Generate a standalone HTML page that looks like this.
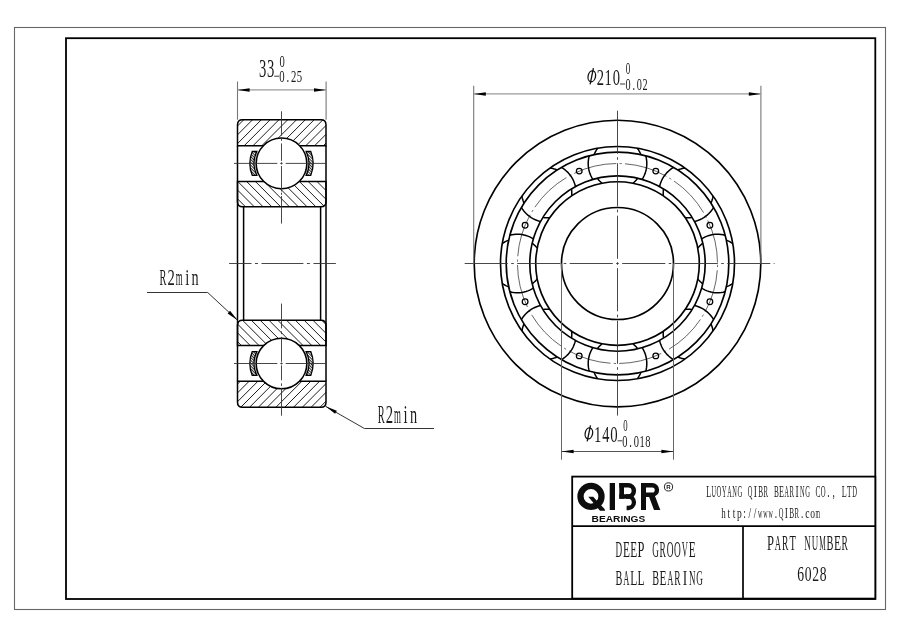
<!DOCTYPE html><html><head><meta charset="utf-8"><style>html,body{margin:0;padding:0;background:#fff;width:900px;height:636px;overflow:hidden}svg{display:block;filter:grayscale(1)}</style></head><body><svg width="900" height="636" viewBox="0 0 900 636"><defs><clipPath id="ro1"><path d="M237.5,145.8 L237.5,124.8 Q237.5,119.8 242.5,119.8 L321.0,119.8 Q326.0,119.8 326.0,124.8 L326.0,145.8 Z"/></clipPath><clipPath id="ri1"><path d="M237.5,181.6 L326.0,181.6 L326.0,201.8 Q326.0,206.8 321.0,206.8 L242.5,206.8 Q237.5,206.8 237.5,201.8 Z"/></clipPath><clipPath id="ri2"><path d="M237.5,345.4 L237.5,325.2 Q237.5,320.2 242.5,320.2 L321.0,320.2 Q326.0,320.2 326.0,325.2 L326.0,345.4 Z"/></clipPath><clipPath id="ro2"><path d="M237.5,381.2 L326.0,381.2 L326.0,402.2 Q326.0,407.2 321.0,407.2 L242.5,407.2 Q237.5,407.2 237.5,402.2 Z"/></clipPath><pattern id="cagehatch" width="2.0" height="2.0" patternUnits="userSpaceOnUse" patternTransform="rotate(-45)"><rect width="2.0" height="2.0" fill="#fff"/><rect width="0.95" height="2.0" fill="#222"/></pattern></defs><rect width="900" height="636" fill="#fff"/><rect x="14.5" y="27.5" width="871" height="582" fill="none" stroke="#666" stroke-width="1.1"/>
<rect x="66" y="38.2" width="809.3" height="560.8" fill="none" stroke="#000" stroke-width="1.8"/>
<path d="M215.70,147.8 L245.70,117.8 M224.50,147.8 L254.50,117.8 M233.30,147.8 L263.30,117.8 M242.10,147.8 L272.10,117.8 M250.90,147.8 L280.90,117.8 M259.70,147.8 L289.70,117.8 M268.50,147.8 L298.50,117.8 M277.30,147.8 L307.30,117.8 M286.10,147.8 L316.10,117.8 M294.90,147.8 L324.90,117.8 M303.70,147.8 L333.70,117.8 M312.50,147.8 L342.50,117.8 M321.30,147.8 L351.30,117.8" stroke="#111" stroke-width="0.95" fill="none" clip-path="url(#ro1)"/>
<path d="M237.5,145.8 L237.5,124.8 Q237.5,119.8 242.5,119.8 L321.0,119.8 Q326.0,119.8 326.0,124.8 L326.0,145.8 Z" fill="none" stroke="#000" stroke-width="1.5"/>
<path d="M209.50,179.6 L238.70,208.8 M218.30,179.6 L247.50,208.8 M227.10,179.6 L256.30,208.8 M235.90,179.6 L265.10,208.8 M244.70,179.6 L273.90,208.8 M253.50,179.6 L282.70,208.8 M262.30,179.6 L291.50,208.8 M271.10,179.6 L300.30,208.8 M279.90,179.6 L309.10,208.8 M288.70,179.6 L317.90,208.8 M297.50,179.6 L326.70,208.8 M306.30,179.6 L335.50,208.8 M315.10,179.6 L344.30,208.8 M323.90,179.6 L353.10,208.8" stroke="#111" stroke-width="0.95" fill="none" clip-path="url(#ri1)"/>
<path d="M237.5,181.6 L326.0,181.6 L326.0,201.8 Q326.0,206.8 321.0,206.8 L242.5,206.8 Q237.5,206.8 237.5,201.8 Z" fill="none" stroke="#000" stroke-width="1.5"/>
<path d="M214.10,318.2 L243.30,347.4 M222.90,318.2 L252.10,347.4 M231.70,318.2 L260.90,347.4 M240.50,318.2 L269.70,347.4 M249.30,318.2 L278.50,347.4 M258.10,318.2 L287.30,347.4 M266.90,318.2 L296.10,347.4 M275.70,318.2 L304.90,347.4 M284.50,318.2 L313.70,347.4 M293.30,318.2 L322.50,347.4 M302.10,318.2 L331.30,347.4 M310.90,318.2 L340.10,347.4 M319.70,318.2 L348.90,347.4" stroke="#111" stroke-width="0.95" fill="none" clip-path="url(#ri2)"/>
<path d="M237.5,345.4 L237.5,325.2 Q237.5,320.2 242.5,320.2 L321.0,320.2 Q326.0,320.2 326.0,325.2 L326.0,345.4 Z" fill="none" stroke="#000" stroke-width="1.5"/>
<path d="M212.40,409.2 L242.40,379.2 M221.20,409.2 L251.20,379.2 M230.00,409.2 L260.00,379.2 M238.80,409.2 L268.80,379.2 M247.60,409.2 L277.60,379.2 M256.40,409.2 L286.40,379.2 M265.20,409.2 L295.20,379.2 M274.00,409.2 L304.00,379.2 M282.80,409.2 L312.80,379.2 M291.60,409.2 L321.60,379.2 M300.40,409.2 L330.40,379.2 M309.20,409.2 L339.20,379.2 M318.00,409.2 L348.00,379.2" stroke="#111" stroke-width="0.95" fill="none" clip-path="url(#ro2)"/>
<path d="M237.5,381.2 L326.0,381.2 L326.0,402.2 Q326.0,407.2 321.0,407.2 L242.5,407.2 Q237.5,407.2 237.5,402.2 Z" fill="none" stroke="#000" stroke-width="1.5"/>
<line x1="237.50" y1="145.80" x2="237.50" y2="381.20" stroke="#000" stroke-width="1.5" />
<line x1="326.00" y1="145.80" x2="326.00" y2="381.20" stroke="#000" stroke-width="1.5" />
<line x1="243.60" y1="206.80" x2="243.60" y2="320.20" stroke="#000" stroke-width="1.5" />
<line x1="320.60" y1="206.80" x2="320.60" y2="320.20" stroke="#000" stroke-width="1.5" />
<path d="M252.23,151.50 A31.6,31.6 0 0 0 252.23,175.30 L256.82,175.30 A27.4,27.4 0 0 1 256.82,151.50 Z" fill="url(#cagehatch)" stroke="#000" stroke-width="1.3"/>
<path d="M257.61,152.40 A26.3,26.3 0 0 0 257.61,174.40" fill="none" stroke="#777" stroke-width="0.6"/>
<path d="M310.77,151.50 A31.6,31.6 0 0 1 310.77,175.30 L306.18,175.30 A27.4,27.4 0 0 0 306.18,151.50 Z" fill="url(#cagehatch)" stroke="#000" stroke-width="1.3"/>
<path d="M305.39,152.40 A26.3,26.3 0 0 1 305.39,174.40" fill="none" stroke="#777" stroke-width="0.6"/>
<circle cx="281.5" cy="163.4" r="25.3" fill="#fff" stroke="#000" stroke-width="1.5"/>
<path d="M252.23,351.60 A31.6,31.6 0 0 0 252.23,375.40 L256.82,375.40 A27.4,27.4 0 0 1 256.82,351.60 Z" fill="url(#cagehatch)" stroke="#000" stroke-width="1.3"/>
<path d="M257.61,352.50 A26.3,26.3 0 0 0 257.61,374.50" fill="none" stroke="#777" stroke-width="0.6"/>
<path d="M310.77,351.60 A31.6,31.6 0 0 1 310.77,375.40 L306.18,375.40 A27.4,27.4 0 0 0 306.18,351.60 Z" fill="url(#cagehatch)" stroke="#000" stroke-width="1.3"/>
<path d="M305.39,352.50 A26.3,26.3 0 0 1 305.39,374.50" fill="none" stroke="#777" stroke-width="0.6"/>
<circle cx="281.5" cy="363.5" r="25.3" fill="#fff" stroke="#000" stroke-width="1.5"/>
<path d="M281.5,111.3 L281.5,135.6 M281.5,138.3 L281.5,140.8 M281.5,143.4 L281.5,160.9 M281.5,162.3 L281.5,164.5 M281.5,166.0 L281.5,191.4 M281.5,192.7 L281.5,194.8 M281.5,196.0 L281.5,223.6" stroke="#333" stroke-width="0.9" fill="none"/>
<path d="M281.5,303.6 L281.5,328.3 M281.5,331.4 L281.5,334.0 M281.5,336.9 L281.5,361.8 M281.5,362.5 L281.5,364.5 M281.5,365.4 L281.5,380.3 M281.5,383.4 L281.5,385.9 M281.5,387.8 L281.5,415.7" stroke="#333" stroke-width="0.9" fill="none"/>
<line x1="234.00" y1="163.40" x2="326.00" y2="163.40" stroke="#333" stroke-width="0.9" stroke-dasharray="43.80 3.0 2.4 3.0" stroke-dashoffset="0.50"/>
<line x1="234.00" y1="363.50" x2="326.00" y2="363.50" stroke="#333" stroke-width="0.9" stroke-dasharray="43.80 3.0 2.4 3.0" stroke-dashoffset="0.50"/>
<line x1="229.10" y1="263.50" x2="335.90" y2="263.50" stroke="#333" stroke-width="0.9" stroke-dasharray="41.90 3.5 3.0 3.5" stroke-dashoffset="19.50"/>
<line x1="237.50" y1="81.50" x2="237.50" y2="119.80" stroke="#777" stroke-width="1.1" />
<line x1="326.10" y1="81.50" x2="326.10" y2="119.80" stroke="#777" stroke-width="1.1" />
<line x1="237.50" y1="89.90" x2="326.10" y2="89.90" stroke="#9a9a9a" stroke-width="1.4" />
<path d="M237.60,89.90 L249.60,88.15 L249.60,91.65 Z" fill="#000"/>
<path d="M326.00,89.90 L314.00,91.65 L314.00,88.15 Z" fill="#000"/>
<line x1="147.00" y1="292.50" x2="207.70" y2="292.50" stroke="#333" stroke-width="1.0" />
<line x1="207.70" y1="292.50" x2="237.60" y2="320.30" stroke="#333" stroke-width="1.0" />
<path d="M237.60,320.30 L227.63,313.39 L230.02,310.83 Z" fill="#000"/>
<line x1="434.00" y1="428.50" x2="364.40" y2="428.50" stroke="#333" stroke-width="1.0" />
<line x1="364.40" y1="428.50" x2="325.50" y2="406.30" stroke="#333" stroke-width="1.0" />
<path d="M325.50,406.30 L336.82,410.64 L335.11,413.69 Z" fill="#000"/>
<circle cx="617.5" cy="263.5" r="143.3" fill="none" stroke="#000" stroke-width="1.65"/>
<circle cx="617.5" cy="263.5" r="117.0" fill="none" stroke="#000" stroke-width="1.65"/>
<circle cx="617.5" cy="263.5" r="111.3" fill="none" stroke="#000" stroke-width="1.65"/>
<circle cx="617.5" cy="263.5" r="87.7" fill="none" stroke="#000" stroke-width="1.65"/>
<circle cx="617.5" cy="263.5" r="81.8" fill="none" stroke="#000" stroke-width="1.65"/>
<circle cx="617.5" cy="263.5" r="56.0" fill="none" stroke="#000" stroke-width="1.65"/>
<circle cx="617.5" cy="263.5" r="100" fill="none" stroke="#333" stroke-width="0.75" stroke-dasharray="43.5 3.3 2.3 3.26" stroke-dashoffset="45.5"/>
<path d="M725.15,235.22 L723.16,234.75 L721.15,234.43 L719.12,234.24 L717.08,234.20 L715.04,234.30 L713.02,234.54 L711.02,234.93 L709.05,235.45 L707.12,236.10 L705.24,236.89 L703.42,237.81 L701.66,238.85 M725.15,291.78 L723.16,292.25 L721.15,292.57 L719.12,292.76 L717.08,292.80 L715.04,292.70 L713.02,292.46 L711.02,292.07 L709.05,291.55 L707.12,290.90 L705.24,290.11 L703.42,289.19 L701.66,288.15 M732.82,243.74 L732.32,243.37 L731.82,243.00 L731.30,242.65 L730.78,242.32 L730.24,241.99 L729.70,241.68 L729.16,241.38 L728.60,241.10 L728.04,240.83 L727.47,240.57 L726.89,240.33 L726.31,240.11 M732.82,283.26 L732.32,283.63 L731.82,284.00 L731.30,284.35 L730.78,284.68 L730.24,285.01 L729.70,285.32 L729.16,285.62 L728.60,285.90 L728.04,286.17 L727.47,286.43 L726.89,286.67 L726.31,286.89 M702.83,243.26 L702.37,243.60 L701.91,243.96 L701.46,244.33 L701.02,244.70 L700.59,245.09 L700.16,245.49 L699.75,245.89 L699.35,246.31 L698.95,246.74 L698.57,247.17 L698.19,247.62 L697.83,248.07 M702.83,283.74 L702.37,283.40 L701.91,283.04 L701.46,282.67 L701.02,282.30 L700.59,281.91 L700.16,281.51 L699.75,281.11 L699.35,280.69 L698.95,280.26 L698.57,279.83 L698.19,279.38 L697.83,278.93 M673.62,167.38 L671.89,168.46 L670.23,169.65 L668.67,170.96 L667.20,172.37 L665.83,173.88 L664.57,175.48 L663.42,177.17 L662.40,178.93 L661.49,180.76 L660.72,182.64 L660.08,184.58 L659.58,186.56 M713.62,207.38 L712.54,209.11 L711.35,210.77 L710.04,212.33 L708.63,213.80 L707.12,215.17 L705.52,216.43 L703.83,217.58 L702.07,218.60 L700.24,219.51 L698.36,220.28 L696.42,220.92 L694.44,221.42 M685.07,167.99 L684.46,168.07 L683.84,168.17 L683.23,168.29 L682.62,168.42 L682.01,168.57 L681.41,168.73 L680.81,168.91 L680.22,169.10 L679.63,169.31 L679.05,169.53 L678.47,169.76 L677.90,170.01 M713.01,195.93 L712.93,196.54 L712.83,197.16 L712.71,197.77 L712.58,198.38 L712.43,198.99 L712.27,199.59 L712.09,200.19 L711.90,200.78 L711.69,201.37 L711.47,201.95 L711.24,202.53 L710.99,203.10 M663.52,188.85 L663.44,189.42 L663.37,190.00 L663.31,190.57 L663.26,191.15 L663.23,191.73 L663.22,192.31 L663.21,192.89 L663.22,193.47 L663.24,194.05 L663.28,194.63 L663.33,195.21 L663.39,195.79 M692.15,217.48 L691.58,217.56 L691.00,217.63 L690.43,217.69 L689.85,217.74 L689.27,217.77 L688.69,217.78 L688.11,217.79 L687.53,217.78 L686.95,217.76 L686.37,217.72 L685.79,217.67 L685.21,217.61 M589.22,155.85 L588.75,157.84 L588.43,159.85 L588.24,161.88 L588.20,163.92 L588.30,165.96 L588.54,167.98 L588.93,169.98 L589.45,171.95 L590.10,173.88 L590.89,175.76 L591.81,177.58 L592.85,179.34 M645.78,155.85 L646.25,157.84 L646.57,159.85 L646.76,161.88 L646.80,163.92 L646.70,165.96 L646.46,167.98 L646.07,169.98 L645.55,171.95 L644.90,173.88 L644.11,175.76 L643.19,177.58 L642.15,179.34 M597.74,148.18 L597.37,148.68 L597.00,149.18 L596.65,149.70 L596.32,150.22 L595.99,150.76 L595.68,151.30 L595.38,151.84 L595.10,152.40 L594.83,152.96 L594.57,153.53 L594.33,154.11 L594.11,154.69 M637.26,148.18 L637.63,148.68 L638.00,149.18 L638.35,149.70 L638.68,150.22 L639.01,150.76 L639.32,151.30 L639.62,151.84 L639.90,152.40 L640.17,152.96 L640.43,153.53 L640.67,154.11 L640.89,154.69 M597.26,178.17 L597.60,178.63 L597.96,179.09 L598.33,179.54 L598.70,179.98 L599.09,180.41 L599.49,180.84 L599.89,181.25 L600.31,181.65 L600.74,182.05 L601.17,182.43 L601.62,182.81 L602.07,183.17 M637.74,178.17 L637.40,178.63 L637.04,179.09 L636.67,179.54 L636.30,179.98 L635.91,180.41 L635.51,180.84 L635.11,181.25 L634.69,181.65 L634.26,182.05 L633.83,182.43 L633.38,182.81 L632.93,183.17 M521.38,207.38 L522.46,209.11 L523.65,210.77 L524.96,212.33 L526.37,213.80 L527.88,215.17 L529.48,216.43 L531.17,217.58 L532.93,218.60 L534.76,219.51 L536.64,220.28 L538.58,220.92 L540.56,221.42 M561.38,167.38 L563.11,168.46 L564.77,169.65 L566.33,170.96 L567.80,172.37 L569.17,173.88 L570.43,175.48 L571.58,177.17 L572.60,178.93 L573.51,180.76 L574.28,182.64 L574.92,184.58 L575.42,186.56 M521.99,195.93 L522.07,196.54 L522.17,197.16 L522.29,197.77 L522.42,198.38 L522.57,198.99 L522.73,199.59 L522.91,200.19 L523.10,200.78 L523.31,201.37 L523.53,201.95 L523.76,202.53 L524.01,203.10 M549.93,167.99 L550.54,168.07 L551.16,168.17 L551.77,168.29 L552.38,168.42 L552.99,168.57 L553.59,168.73 L554.19,168.91 L554.78,169.10 L555.37,169.31 L555.95,169.53 L556.53,169.76 L557.10,170.01 M542.85,217.48 L543.42,217.56 L544.00,217.63 L544.57,217.69 L545.15,217.74 L545.73,217.77 L546.31,217.78 L546.89,217.79 L547.47,217.78 L548.05,217.76 L548.63,217.72 L549.21,217.67 L549.79,217.61 M571.48,188.85 L571.56,189.42 L571.63,190.00 L571.69,190.57 L571.74,191.15 L571.77,191.73 L571.78,192.31 L571.79,192.89 L571.78,193.47 L571.76,194.05 L571.72,194.63 L571.67,195.21 L571.61,195.79 M509.85,291.78 L511.84,292.25 L513.85,292.57 L515.88,292.76 L517.92,292.80 L519.96,292.70 L521.98,292.46 L523.98,292.07 L525.95,291.55 L527.88,290.90 L529.76,290.11 L531.58,289.19 L533.34,288.15 M509.85,235.22 L511.84,234.75 L513.85,234.43 L515.88,234.24 L517.92,234.20 L519.96,234.30 L521.98,234.54 L523.98,234.93 L525.95,235.45 L527.88,236.10 L529.76,236.89 L531.58,237.81 L533.34,238.85 M502.18,283.26 L502.68,283.63 L503.18,284.00 L503.70,284.35 L504.22,284.68 L504.76,285.01 L505.30,285.32 L505.84,285.62 L506.40,285.90 L506.96,286.17 L507.53,286.43 L508.11,286.67 L508.69,286.89 M502.18,243.74 L502.68,243.37 L503.18,243.00 L503.70,242.65 L504.22,242.32 L504.76,241.99 L505.30,241.68 L505.84,241.38 L506.40,241.10 L506.96,240.83 L507.53,240.57 L508.11,240.33 L508.69,240.11 M532.17,283.74 L532.63,283.40 L533.09,283.04 L533.54,282.67 L533.98,282.30 L534.41,281.91 L534.84,281.51 L535.25,281.11 L535.65,280.69 L536.05,280.26 L536.43,279.83 L536.81,279.38 L537.17,278.93 M532.17,243.26 L532.63,243.60 L533.09,243.96 L533.54,244.33 L533.98,244.70 L534.41,245.09 L534.84,245.49 L535.25,245.89 L535.65,246.31 L536.05,246.74 L536.43,247.17 L536.81,247.62 L537.17,248.07 M561.38,359.62 L563.11,358.54 L564.77,357.35 L566.33,356.04 L567.80,354.63 L569.17,353.12 L570.43,351.52 L571.58,349.83 L572.60,348.07 L573.51,346.24 L574.28,344.36 L574.92,342.42 L575.42,340.44 M521.38,319.62 L522.46,317.89 L523.65,316.23 L524.96,314.67 L526.37,313.20 L527.88,311.83 L529.48,310.57 L531.17,309.42 L532.93,308.40 L534.76,307.49 L536.64,306.72 L538.58,306.08 L540.56,305.58 M549.93,359.01 L550.54,358.93 L551.16,358.83 L551.77,358.71 L552.38,358.58 L552.99,358.43 L553.59,358.27 L554.19,358.09 L554.78,357.90 L555.37,357.69 L555.95,357.47 L556.53,357.24 L557.10,356.99 M521.99,331.07 L522.07,330.46 L522.17,329.84 L522.29,329.23 L522.42,328.62 L522.57,328.01 L522.73,327.41 L522.91,326.81 L523.10,326.22 L523.31,325.63 L523.53,325.05 L523.76,324.47 L524.01,323.90 M571.48,338.15 L571.56,337.58 L571.63,337.00 L571.69,336.43 L571.74,335.85 L571.77,335.27 L571.78,334.69 L571.79,334.11 L571.78,333.53 L571.76,332.95 L571.72,332.37 L571.67,331.79 L571.61,331.21 M542.85,309.52 L543.42,309.44 L544.00,309.37 L544.57,309.31 L545.15,309.26 L545.73,309.23 L546.31,309.22 L546.89,309.21 L547.47,309.22 L548.05,309.24 L548.63,309.28 L549.21,309.33 L549.79,309.39 M645.78,371.15 L646.25,369.16 L646.57,367.15 L646.76,365.12 L646.80,363.08 L646.70,361.04 L646.46,359.02 L646.07,357.02 L645.55,355.05 L644.90,353.12 L644.11,351.24 L643.19,349.42 L642.15,347.66 M589.22,371.15 L588.75,369.16 L588.43,367.15 L588.24,365.12 L588.20,363.08 L588.30,361.04 L588.54,359.02 L588.93,357.02 L589.45,355.05 L590.10,353.12 L590.89,351.24 L591.81,349.42 L592.85,347.66 M637.26,378.82 L637.63,378.32 L638.00,377.82 L638.35,377.30 L638.68,376.78 L639.01,376.24 L639.32,375.70 L639.62,375.16 L639.90,374.60 L640.17,374.04 L640.43,373.47 L640.67,372.89 L640.89,372.31 M597.74,378.82 L597.37,378.32 L597.00,377.82 L596.65,377.30 L596.32,376.78 L595.99,376.24 L595.68,375.70 L595.38,375.16 L595.10,374.60 L594.83,374.04 L594.57,373.47 L594.33,372.89 L594.11,372.31 M637.74,348.83 L637.40,348.37 L637.04,347.91 L636.67,347.46 L636.30,347.02 L635.91,346.59 L635.51,346.16 L635.11,345.75 L634.69,345.35 L634.26,344.95 L633.83,344.57 L633.38,344.19 L632.93,343.83 M597.26,348.83 L597.60,348.37 L597.96,347.91 L598.33,347.46 L598.70,347.02 L599.09,346.59 L599.49,346.16 L599.89,345.75 L600.31,345.35 L600.74,344.95 L601.17,344.57 L601.62,344.19 L602.07,343.83 M713.62,319.62 L712.54,317.89 L711.35,316.23 L710.04,314.67 L708.63,313.20 L707.12,311.83 L705.52,310.57 L703.83,309.42 L702.07,308.40 L700.24,307.49 L698.36,306.72 L696.42,306.08 L694.44,305.58 M673.62,359.62 L671.89,358.54 L670.23,357.35 L668.67,356.04 L667.20,354.63 L665.83,353.12 L664.57,351.52 L663.42,349.83 L662.40,348.07 L661.49,346.24 L660.72,344.36 L660.08,342.42 L659.58,340.44 M713.01,331.07 L712.93,330.46 L712.83,329.84 L712.71,329.23 L712.58,328.62 L712.43,328.01 L712.27,327.41 L712.09,326.81 L711.90,326.22 L711.69,325.63 L711.47,325.05 L711.24,324.47 L710.99,323.90 M685.07,359.01 L684.46,358.93 L683.84,358.83 L683.23,358.71 L682.62,358.58 L682.01,358.43 L681.41,358.27 L680.81,358.09 L680.22,357.90 L679.63,357.69 L679.05,357.47 L678.47,357.24 L677.90,356.99 M692.15,309.52 L691.58,309.44 L691.00,309.37 L690.43,309.31 L689.85,309.26 L689.27,309.23 L688.69,309.22 L688.11,309.21 L687.53,309.22 L686.95,309.24 L686.37,309.28 L685.79,309.33 L685.21,309.39 M663.52,338.15 L663.44,337.58 L663.37,337.00 L663.31,336.43 L663.26,335.85 L663.23,335.27 L663.22,334.69 L663.21,334.11 L663.22,333.53 L663.24,332.95 L663.28,332.37 L663.33,331.79 L663.39,331.21" fill="none" stroke="#000" stroke-width="1.5"/>
<circle cx="709.89" cy="225.23" r="2.85" fill="none" stroke="#000" stroke-width="1.25"/>
<circle cx="655.77" cy="171.11" r="2.85" fill="none" stroke="#000" stroke-width="1.25"/>
<circle cx="579.23" cy="171.11" r="2.85" fill="none" stroke="#000" stroke-width="1.25"/>
<circle cx="525.11" cy="225.23" r="2.85" fill="none" stroke="#000" stroke-width="1.25"/>
<circle cx="525.11" cy="301.77" r="2.85" fill="none" stroke="#000" stroke-width="1.25"/>
<circle cx="579.23" cy="355.89" r="2.85" fill="none" stroke="#000" stroke-width="1.25"/>
<circle cx="655.77" cy="355.89" r="2.85" fill="none" stroke="#000" stroke-width="1.25"/>
<circle cx="709.89" cy="301.77" r="2.85" fill="none" stroke="#000" stroke-width="1.25"/>
<line x1="463.60" y1="263.50" x2="774.50" y2="263.50" stroke="#333" stroke-width="0.9" stroke-dasharray="43.10 3.4 2.6 3.4" stroke-dashoffset="51.40"/>
<line x1="617.50" y1="109.40" x2="617.50" y2="415.60" stroke="#333" stroke-width="0.9" stroke-dasharray="43.10 3.4 2.6 3.4" stroke-dashoffset="51.20"/>
<line x1="473.70" y1="85.80" x2="473.70" y2="263.50" stroke="#777" stroke-width="1.1" />
<line x1="760.90" y1="85.80" x2="760.90" y2="263.50" stroke="#777" stroke-width="1.1" />
<line x1="473.70" y1="93.90" x2="760.90" y2="93.90" stroke="#9a9a9a" stroke-width="1.4" />
<path d="M473.80,93.90 L485.80,92.15 L485.80,95.65 Z" fill="#000"/>
<path d="M760.80,93.90 L748.80,95.65 L748.80,92.15 Z" fill="#000"/>
<line x1="561.50" y1="263.50" x2="561.50" y2="459.70" stroke="#666" stroke-width="1.0" />
<line x1="673.50" y1="263.50" x2="673.50" y2="459.70" stroke="#666" stroke-width="1.0" />
<line x1="561.50" y1="451.50" x2="673.50" y2="451.50" stroke="#555" stroke-width="1.0" />
<path d="M561.60,451.50 L573.60,449.75 L573.60,453.25 Z" fill="#000"/>
<path d="M673.40,451.50 L661.40,453.25 L661.40,449.75 Z" fill="#000"/>
<rect x="572.2" y="476.6" width="303.1" height="122.0" fill="#fff" stroke="#000" stroke-width="1.8"/>
<line x1="572.20" y1="526.20" x2="875.30" y2="526.20" stroke="#000" stroke-width="1.7" />
<line x1="743.00" y1="526.20" x2="743.00" y2="598.60" stroke="#000" stroke-width="1.7" />
<g font-family="'Liberation Serif', serif" fill="#1a1a1a" opacity="0.995"><text transform="translate(259.06,77.10) scale(0.5824,1)" font-size="25.11">3</text><text transform="translate(267.08,77.10) scale(0.5824,1)" font-size="25.11">3</text></g>
<g font-family="'Liberation Serif', serif" fill="#1a1a1a" opacity="0.995"><text transform="translate(279.60,66.70) scale(0.6112,1)" font-size="17.29">0</text></g>
<g font-family="'Liberation Serif', serif" fill="#1a1a1a" opacity="0.995"><text transform="translate(279.20,82.00) scale(0.6046,1)" font-size="17.74">0</text><text transform="translate(286.43,82.00) scale(0.6046,1)" font-size="17.74">.</text><text transform="translate(291.03,82.00) scale(0.6046,1)" font-size="17.74">2</text><text transform="translate(296.77,82.00) scale(0.6046,1)" font-size="17.74">5</text></g>
<line x1="274.20" y1="76.20" x2="279.00" y2="76.20" stroke="#222" stroke-width="0.9" />
<g font-family="'Liberation Serif', serif" fill="#1a1a1a" opacity="0.995"><text transform="translate(596.84,84.50) scale(0.6055,1)" font-size="24.06">2</text><text transform="translate(604.57,84.50) scale(0.6055,1)" font-size="24.06">1</text><text transform="translate(612.76,84.50) scale(0.6055,1)" font-size="24.06">0</text></g>
<g font-family="'Liberation Serif', serif" fill="#1a1a1a" opacity="0.995"><text transform="translate(625.66,74.20) scale(0.5410,1)" font-size="16.84">0</text></g>
<g font-family="'Liberation Serif', serif" fill="#1a1a1a" opacity="0.995"><text transform="translate(625.62,90.00) scale(0.5748,1)" font-size="17.74">0</text><text transform="translate(632.49,90.00) scale(0.5748,1)" font-size="17.74">.</text><text transform="translate(636.81,90.00) scale(0.5748,1)" font-size="17.74">0</text><text transform="translate(642.46,90.00) scale(0.5748,1)" font-size="17.74">2</text></g>
<line x1="620.00" y1="84.00" x2="625.00" y2="84.00" stroke="#222" stroke-width="0.9" />
<g font-family="'Liberation Serif', serif" fill="#1a1a1a" opacity="0.995"><text transform="translate(593.91,441.60) scale(0.6152,1)" font-size="24.06">1</text><text transform="translate(602.31,441.60) scale(0.5953,1)" font-size="24.06">4</text><text transform="translate(610.35,441.60) scale(0.6152,1)" font-size="24.06">0</text></g>
<g font-family="'Liberation Serif', serif" fill="#1a1a1a" opacity="0.995"><text transform="translate(623.17,431.00) scale(0.5540,1)" font-size="15.79">0</text></g>
<g font-family="'Liberation Serif', serif" fill="#1a1a1a" opacity="0.995"><text transform="translate(622.31,446.90) scale(0.5995,1)" font-size="17.44">0</text><text transform="translate(629.35,446.90) scale(0.5995,1)" font-size="17.44">.</text><text transform="translate(633.79,446.90) scale(0.5995,1)" font-size="17.44">0</text><text transform="translate(639.38,446.90) scale(0.5995,1)" font-size="17.44">1</text><text transform="translate(645.26,446.90) scale(0.5995,1)" font-size="17.44">8</text></g>
<line x1="617.60" y1="440.80" x2="622.20" y2="440.80" stroke="#222" stroke-width="0.9" />
<ellipse cx="588.90" cy="433.40" rx="3.7" ry="5.5" transform="rotate(12 588.90 433.40)" fill="none" stroke="#111" stroke-width="1.3"/>
<line x1="587.20" y1="441.40" x2="590.50" y2="425.30" stroke="#111" stroke-width="1.3"/>
<ellipse cx="591.80" cy="76.30" rx="3.7" ry="5.5" transform="rotate(12 591.80 76.30)" fill="none" stroke="#111" stroke-width="1.3"/>
<line x1="590.10" y1="84.30" x2="593.40" y2="68.20" stroke="#111" stroke-width="1.3"/>
<g font-family="'Liberation Serif', serif" fill="#1a1a1a" opacity="0.995"><text transform="translate(159.49,284.80) scale(0.4326,1)" font-size="23.97">R</text><text transform="translate(167.54,284.80) scale(0.6104,1)" font-size="23.97">2</text><text transform="translate(175.68,284.80) scale(0.3699,1)" font-size="23.97">m</text><text transform="translate(185.13,284.80) scale(0.6104,1)" font-size="23.97">i</text><text transform="translate(191.60,284.80) scale(0.5939,1)" font-size="23.97">n</text></g>
<g font-family="'Liberation Serif', serif" fill="#1a1a1a" opacity="0.995"><text transform="translate(377.79,422.60) scale(0.4203,1)" font-size="24.73">R</text><text transform="translate(385.86,422.60) scale(0.5931,1)" font-size="24.73">2</text><text transform="translate(394.02,422.60) scale(0.3594,1)" font-size="24.73">m</text><text transform="translate(403.50,422.60) scale(0.5931,1)" font-size="24.73">i</text><text transform="translate(409.98,422.60) scale(0.5770,1)" font-size="24.73">n</text></g>
<g font-family="'Liberation Serif', serif" fill="#1a1a1a" opacity="0.995"><text transform="translate(706.15,496.70) scale(0.5226,1)" font-size="15.73">L</text><text transform="translate(711.49,496.70) scale(0.3997,1)" font-size="15.73">U</text><text transform="translate(716.56,496.70) scale(0.4246,1)" font-size="15.73">O</text><text transform="translate(721.97,496.70) scale(0.3953,1)" font-size="15.73">Y</text><text transform="translate(727.19,496.70) scale(0.3855,1)" font-size="15.73">A</text><text transform="translate(732.27,496.70) scale(0.4056,1)" font-size="15.73">N</text><text transform="translate(737.41,496.70) scale(0.4181,1)" font-size="15.73">G</text><text transform="translate(747.84,496.70) scale(0.4087,1)" font-size="15.73">Q</text><text transform="translate(753.86,496.70) scale(0.6039,1)" font-size="15.73">I</text><text transform="translate(758.30,496.70) scale(0.4626,1)" font-size="15.73">B</text><text transform="translate(763.53,496.70) scale(0.4280,1)" font-size="15.73">R</text><text transform="translate(773.93,496.70) scale(0.4626,1)" font-size="15.73">B</text><text transform="translate(779.12,496.70) scale(0.5128,1)" font-size="15.73">E</text><text transform="translate(784.51,496.70) scale(0.3855,1)" font-size="15.73">A</text><text transform="translate(789.58,496.70) scale(0.4280,1)" font-size="15.73">R</text><text transform="translate(795.56,496.70) scale(0.6039,1)" font-size="15.73">I</text><text transform="translate(800.02,496.70) scale(0.4056,1)" font-size="15.73">N</text><text transform="translate(805.16,496.70) scale(0.4181,1)" font-size="15.73">G</text><text transform="translate(815.55,496.70) scale(0.4747,1)" font-size="15.73">C</text><text transform="translate(820.79,496.70) scale(0.4246,1)" font-size="15.73">O</text><text transform="translate(827.22,496.70) scale(0.6039,1)" font-size="15.73">.</text><text transform="translate(832.55,496.70) scale(0.6039,1)" font-size="15.73">,</text><text transform="translate(841.66,496.70) scale(0.5226,1)" font-size="15.73">L</text><text transform="translate(846.99,496.70) scale(0.4706,1)" font-size="15.73">T</text><text transform="translate(852.13,496.70) scale(0.4165,1)" font-size="15.73">D</text></g>
<g font-family="'Liberation Serif', serif" fill="#1a1a1a" opacity="0.995"><text transform="translate(721.31,517.60) scale(0.6071,1)" font-size="14.82">h</text><text transform="translate(727.44,517.60) scale(0.6442,1)" font-size="14.82">t</text><text transform="translate(732.68,517.60) scale(0.6442,1)" font-size="14.82">t</text><text transform="translate(737.00,517.60) scale(0.6442,1)" font-size="14.82">p</text><text transform="translate(743.18,517.60) scale(0.6442,1)" font-size="14.82">:</text><text transform="translate(748.42,517.60) scale(0.6442,1)" font-size="14.82">/</text><text transform="translate(753.66,517.60) scale(0.6442,1)" font-size="14.82">/</text><text transform="translate(758.07,517.60) scale(0.4040,1)" font-size="14.82">w</text><text transform="translate(763.31,517.60) scale(0.4040,1)" font-size="14.82">w</text><text transform="translate(768.55,517.60) scale(0.4040,1)" font-size="14.82">w</text><text transform="translate(774.75,517.60) scale(0.6442,1)" font-size="14.82">.</text><text transform="translate(778.77,517.60) scale(0.4359,1)" font-size="14.82">Q</text><text transform="translate(784.83,517.60) scale(0.6442,1)" font-size="14.82">I</text><text transform="translate(789.29,517.60) scale(0.4934,1)" font-size="14.82">B</text><text transform="translate(794.54,517.60) scale(0.4565,1)" font-size="14.82">R</text><text transform="translate(800.94,517.60) scale(0.6442,1)" font-size="14.82">.</text><text transform="translate(805.23,517.60) scale(0.6442,1)" font-size="14.82">c</text><text transform="translate(810.23,517.60) scale(0.6442,1)" font-size="14.82">o</text><text transform="translate(815.59,517.60) scale(0.3904,1)" font-size="14.82">m</text></g>
<g font-family="'Liberation Serif', serif" fill="#1a1a1a" opacity="0.995"><text transform="translate(615.62,557.00) scale(0.4155,1)" font-size="22.14">D</text><text transform="translate(622.88,557.00) scale(0.5116,1)" font-size="22.14">E</text><text transform="translate(630.20,557.00) scale(0.5116,1)" font-size="22.14">E</text><text transform="translate(637.49,557.00) scale(0.5590,1)" font-size="22.14">P</text><text transform="translate(652.13,557.00) scale(0.4171,1)" font-size="22.14">G</text><text transform="translate(659.54,557.00) scale(0.4270,1)" font-size="22.14">R</text><text transform="translate(666.76,557.00) scale(0.4236,1)" font-size="22.14">O</text><text transform="translate(674.08,557.00) scale(0.4236,1)" font-size="22.14">O</text><text transform="translate(681.69,557.00) scale(0.3873,1)" font-size="22.14">V</text><text transform="translate(688.76,557.00) scale(0.5116,1)" font-size="22.14">E</text></g>
<g font-family="'Liberation Serif', serif" fill="#1a1a1a" opacity="0.995"><text transform="translate(615.59,584.70) scale(0.4722,1)" font-size="21.68">B</text><text transform="translate(623.15,584.70) scale(0.3935,1)" font-size="21.68">A</text><text transform="translate(630.22,584.70) scale(0.5335,1)" font-size="21.68">L</text><text transform="translate(637.56,584.70) scale(0.5335,1)" font-size="21.68">L</text><text transform="translate(652.27,584.70) scale(0.4722,1)" font-size="21.68">B</text><text transform="translate(659.57,584.70) scale(0.5235,1)" font-size="21.68">E</text><text transform="translate(667.16,584.70) scale(0.3935,1)" font-size="21.68">A</text><text transform="translate(674.30,584.70) scale(0.4369,1)" font-size="21.68">R</text><text transform="translate(682.70,584.70) scale(0.6165,1)" font-size="21.68">I</text><text transform="translate(688.98,584.70) scale(0.4141,1)" font-size="21.68">N</text><text transform="translate(696.22,584.70) scale(0.4268,1)" font-size="21.68">G</text></g>
<g font-family="'Liberation Serif', serif" fill="#1a1a1a" opacity="0.995"><text transform="translate(767.12,550.00) scale(0.5956,1)" font-size="21.07">P</text><text transform="translate(774.84,550.00) scale(0.4097,1)" font-size="21.07">A</text><text transform="translate(782.06,550.00) scale(0.4549,1)" font-size="21.07">R</text><text transform="translate(789.58,550.00) scale(0.5002,1)" font-size="21.07">T</text><text transform="translate(804.33,550.00) scale(0.4311,1)" font-size="21.07">N</text><text transform="translate(811.85,550.00) scale(0.4248,1)" font-size="21.07">U</text><text transform="translate(819.23,550.00) scale(0.3480,1)" font-size="21.07">M</text><text transform="translate(826.56,550.00) scale(0.4917,1)" font-size="21.07">B</text><text transform="translate(833.95,550.00) scale(0.5450,1)" font-size="21.07">E</text><text transform="translate(841.43,550.00) scale(0.4549,1)" font-size="21.07">R</text></g>
<g font-family="'Liberation Serif', serif" fill="#1a1a1a" opacity="0.995"><text transform="translate(797.22,581.20) scale(0.6463,1)" font-size="21.05">6</text><text transform="translate(804.77,581.20) scale(0.6463,1)" font-size="21.05">0</text><text transform="translate(812.31,581.20) scale(0.6463,1)" font-size="21.05">2</text><text transform="translate(819.71,581.20) scale(0.6463,1)" font-size="21.05">8</text></g>
<circle cx="591.0" cy="496.4" r="10.5" fill="none" stroke="#0d0d0d" stroke-width="6.3"/>
<path d="M588.3,496.8 L593.2,496.8 L605.0,509.5 L605.0,510.8 L600.0,510.8 Z" fill="#0d0d0d"/>
<rect x="609.7" y="483" width="5.3" height="27" fill="#0d0d0d"/>
<rect x="619.3" y="483" width="4.7" height="15.7" fill="#0d0d0d"/>
<path d="M619.3,485.2 L628.2,485.2 A5.65,5.65 0 0 1 628.2,496.5 L619.3,496.5" fill="none" stroke="#0d0d0d" stroke-width="4.5"/>
<path d="M626.0,496.5 L628.2,496.5 A5.75,5.75 0 0 1 628.2,508.0 L626.6,508.0" fill="none" stroke="#0d0d0d" stroke-width="4.3"/>
<rect x="641" y="483" width="5" height="27" fill="#0d0d0d"/>
<path d="M641,485.2 L652.2,485.2 A4.75,4.75 0 0 1 652.2,494.7 L646,494.7" fill="none" stroke="#0d0d0d" stroke-width="4.4"/>
<path d="M648.0,494.0 L654.2,494.0 L660.3,510.0 L654.0,510.0 Z" fill="#0d0d0d"/>
<circle cx="668.5" cy="486.9" r="4.1" fill="none" stroke="#0d0d0d" stroke-width="0.9"/>
<text x="666.3" y="489.3" font-family="'Liberation Sans', sans-serif" font-size="6" font-weight="bold" fill="#0d0d0d">R</text>
<text x="591.6" y="521.9" font-family="'Liberation Sans', sans-serif" font-size="9.1" font-weight="bold" fill="#0d0d0d" textLength="53.7" lengthAdjust="spacingAndGlyphs">BEARINGS</text></svg></body></html>
